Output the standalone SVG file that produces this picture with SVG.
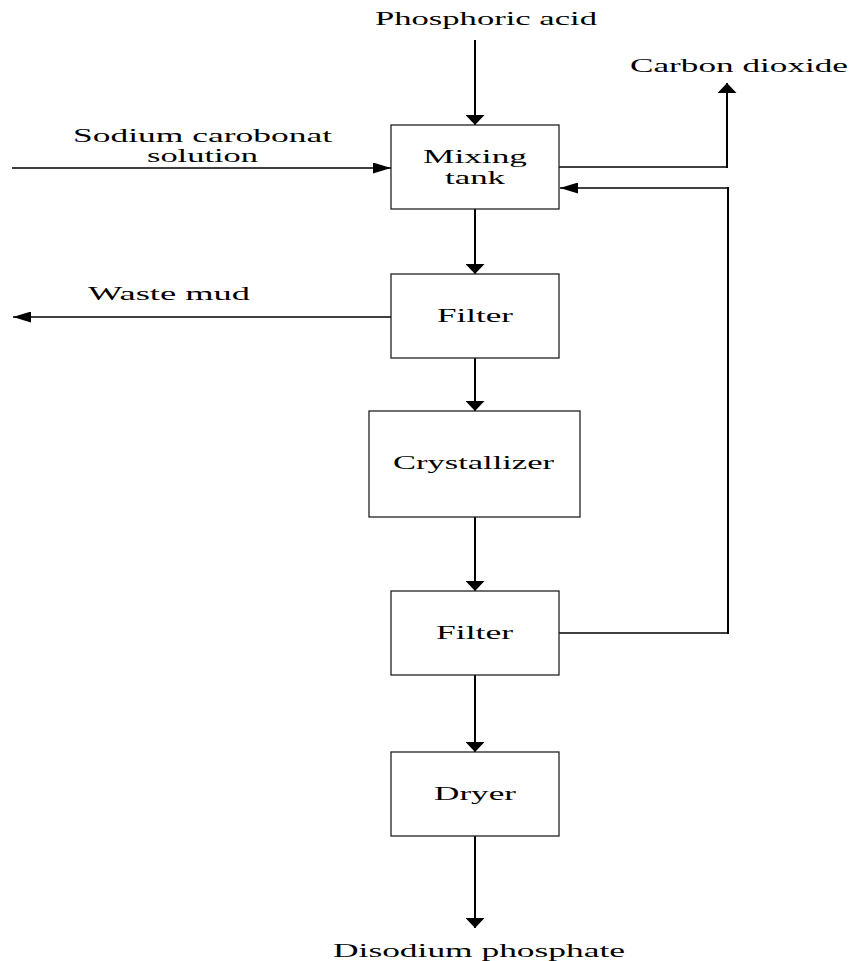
<svg xmlns="http://www.w3.org/2000/svg" width="851" height="961" viewBox="0 0 851 961">
<style>
  .box { fill: #ffffff; stroke: #222222; stroke-width: 1.3; }
  .lbl { font-family: "Liberation Serif", "Times New Roman", serif; font-size: 19px; fill: #000000; }
  .v { stroke: #000000; stroke-width: 2; fill: none; }
  .h { stroke: #000000; stroke-width: 1.3; fill: none; }
</style>
<defs>
  <marker id="arrV" markerUnits="userSpaceOnUse" viewBox="0 0 10 19" markerWidth="10" markerHeight="19" refX="10" refY="9.5" orient="auto">
    <path d="M0,0 L10,9.5 L0,19 Z" fill="#000000"/>
  </marker>
  <marker id="arrH" markerUnits="userSpaceOnUse" viewBox="0 0 18 11" markerWidth="18" markerHeight="11" refX="18" refY="5.5" orient="auto">
    <path d="M0,0 L18,5.5 L0,11 Z" fill="#000000"/>
  </marker>
</defs>

<g id="connectors">
  <!-- Phosphoric acid into mixing tank -->
  <line class="v" x1="475" y1="40" x2="475" y2="125" marker-end="url(#arrV)"/>
  <!-- Sodium carbonate solution into mixing tank -->
  <line class="h" x1="12" y1="168" x2="391" y2="168" marker-end="url(#arrH)"/>
  <!-- Carbon dioxide out -->
  <line class="h" x1="559" y1="167" x2="728" y2="167"/>
  <line class="v" x1="727" y1="168" x2="727" y2="83" marker-end="url(#arrV)"/>
  <!-- Mixing tank to filter -->
  <line class="v" x1="475" y1="209" x2="475" y2="274" marker-end="url(#arrV)"/>
  <!-- Waste mud -->
  <line class="h" x1="391" y1="317" x2="13" y2="317" marker-end="url(#arrH)"/>
  <!-- Filter to crystallizer -->
  <line class="v" x1="475" y1="358" x2="475" y2="411" marker-end="url(#arrV)"/>
  <!-- Crystallizer to filter -->
  <line class="v" x1="475" y1="517" x2="475" y2="591" marker-end="url(#arrV)"/>
  <!-- Recycle from filter to mixing tank -->
  <line class="h" x1="559" y1="633" x2="729" y2="633"/>
  <line class="v" x1="728" y1="634" x2="728" y2="187"/>
  <line class="h" x1="729" y1="188" x2="560" y2="188" marker-end="url(#arrH)"/>
  <!-- Filter to dryer -->
  <line class="v" x1="475" y1="675" x2="475" y2="752" marker-end="url(#arrV)"/>
  <!-- Dryer to product -->
  <line class="v" x1="475" y1="836" x2="475" y2="928" marker-end="url(#arrV)"/>
</g>

<g id="labels">
  <text class="lbl" x="375" y="25" textLength="222" lengthAdjust="spacingAndGlyphs">Phosphoric acid</text>
  <text class="lbl" x="630" y="72" textLength="218" lengthAdjust="spacingAndGlyphs">Carbon dioxide</text>
  <text class="lbl" x="73" y="142" textLength="259" lengthAdjust="spacingAndGlyphs">Sodium carobonat</text>
  <text class="lbl" x="147" y="162" textLength="111" lengthAdjust="spacingAndGlyphs">solution</text>
  <text class="lbl" x="88" y="300" textLength="162" lengthAdjust="spacingAndGlyphs">Waste mud</text>
  <text class="lbl" x="333" y="957" textLength="292" lengthAdjust="spacingAndGlyphs">Disodium phosphate</text>
</g>

<g id="mixing-tank">
  <rect class="box" x="391" y="125" width="168" height="84"/>
  <text class="lbl" x="423" y="163" textLength="104" lengthAdjust="spacingAndGlyphs">Mixing</text>
  <text class="lbl" x="445" y="184" textLength="60" lengthAdjust="spacingAndGlyphs">tank</text>
</g>

<g id="filter-1">
  <rect class="box" x="391" y="274" width="168" height="84"/>
  <text class="lbl" x="437" y="322" textLength="76" lengthAdjust="spacingAndGlyphs">Filter</text>
</g>

<g id="crystallizer">
  <rect class="box" x="369" y="411" width="211" height="106"/>
  <text class="lbl" x="393" y="469" textLength="161" lengthAdjust="spacingAndGlyphs">Crystallizer</text>
</g>

<g id="filter-2">
  <rect class="box" x="391" y="591" width="168" height="84"/>
  <text class="lbl" x="436" y="639" textLength="77" lengthAdjust="spacingAndGlyphs">Filter</text>
</g>

<g id="dryer">
  <rect class="box" x="391" y="752" width="168" height="84"/>
  <text class="lbl" x="434" y="800" textLength="82" lengthAdjust="spacingAndGlyphs">Dryer</text>
</g>
</svg>
